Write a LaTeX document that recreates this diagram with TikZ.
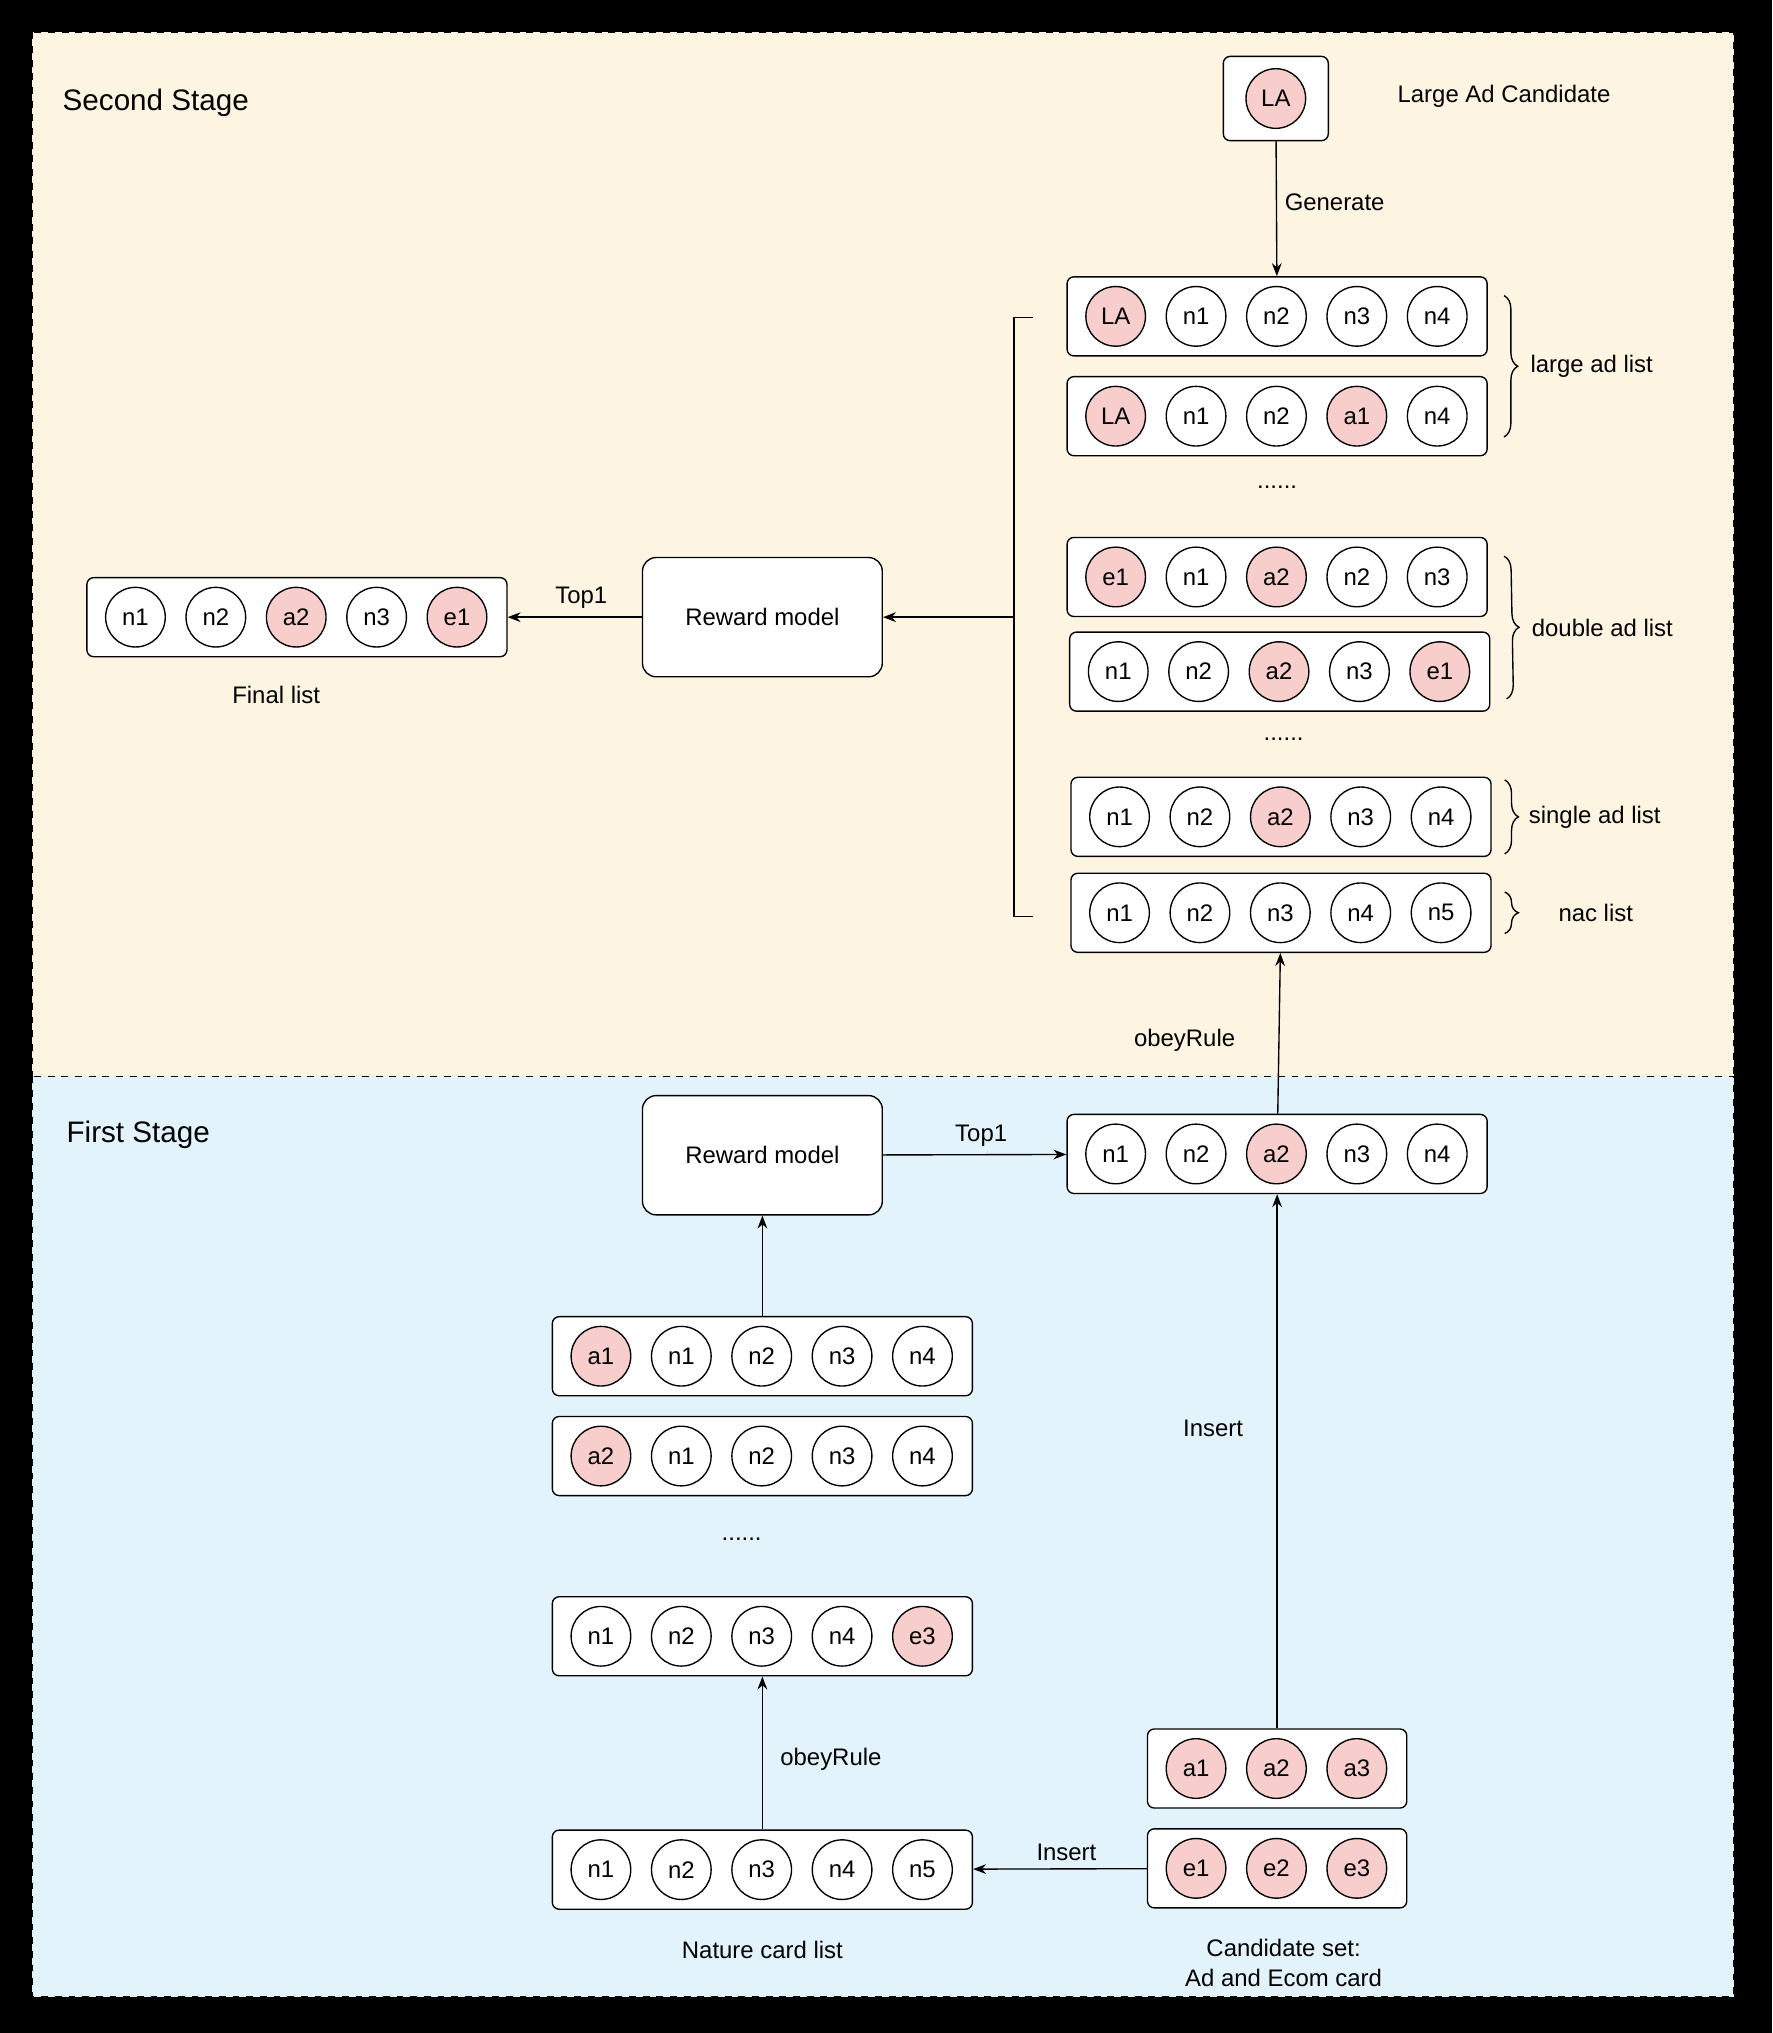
\documentclass[tikz,border=0pt]{standalone}
\usepackage{fontspec}
\setmainfont{Liberation Sans}
\usetikzlibrary{calc,decorations.pathreplacing,arrows.meta}

\definecolor{stagetwo}{HTML}{FDF5E1}
\definecolor{stageone}{HTML}{E2F3FB}
\definecolor{adpink}{HTML}{F8CECC}

% one list of cards: name, centre x, centre y, width, cards
\newcommand{\cardrow}[5]{%
  \node [rowbox,minimum width=#4*0.02cm] (#1) at (#2,#3) {};
  \foreach \lab/\sty [count=\i] in {#5} {
    \pgfmathsetmacro{\off}{(38+62*(\i-1))*0.02}
    \node [\sty] (#1-\i) at ([xshift=\off cm]#1.west) {\lab};
  }%
}

\begin{document}
\begin{tikzpicture}[x=0.02cm,y=-0.02cm,font=\fontsize{10.5}{13}\selectfont,>=Stealth,line width=0.6pt]

  \tikzstyle{rowbox}=[draw,rounded corners=3pt,fill=white,minimum height=1.22cm,inner sep=0pt]
  \tikzstyle{card}=[circle,draw,fill=white,minimum size=0.92cm,inner sep=0pt,font=\fontsize{10.5}{12}\selectfont]
  \tikzstyle{ad}=[card,fill=adpink]
  \tikzstyle{model}=[draw,rounded corners=6pt,fill=white,minimum width=3.7cm,minimum height=1.84cm]
  \tikzstyle{mybrace}=[decorate,decoration={brace,amplitude=6pt}]
  \tikzstyle{stage}=[font=\fontsize{13}{15}\selectfont,anchor=west]

  % background and stages
  \fill [black] (0,0) rectangle (1367,1568);
  \draw [dashed,line width=0.4pt,fill=stagetwo] (25,25) rectangle (1337,830);
  \draw [dashed,line width=0.4pt,fill=stageone] (25,830) rectangle (1337,1540);
  \node [stage] (s2) at (42,79) {Second Stage};
  \node [stage] (s1) at (45,875) {First Stage};

  % second stage
  \node [draw,rounded corners=3pt,fill=white,minimum width=1.62cm,minimum height=1.3cm] (la) at (984,76) {};
  \node [ad] (la-1) at (la) {LA};
  \node (lalab) at (1160,74) {Large Ad Candidate};

  \cardrow{r1}{985}{244}{324}{LA/ad,n1/card,n2/card,n3/card,n4/card}
  \cardrow{r2}{985}{321}{324}{LA/ad,n1/card,n2/card,a1/ad,n4/card}
  \node (d1) at (985,376) {......};
  \cardrow{r3}{985}{445}{324}{e1/ad,n1/card,a2/ad,n2/card,n3/card}
  \cardrow{r4}{987}{518}{324}{n1/card,n2/card,a2/ad,n3/card,e1/ad}
  \node (d2) at (990,570) {......};
  \cardrow{r5}{988}{630}{324}{n1/card,n2/card,a2/ad,n3/card,n4/card}
  \cardrow{r6}{988}{704}{324}{n1/card,n2/card,n3/card,n4/card,n5/card}

  \draw [->] (la) -- node [right,yshift=0.1cm] {Generate} (r1);

  \draw [mybrace] ([xshift=0.25cm,yshift=-0.3cm]r1.north east) -- ([xshift=0.25cm,yshift=0.3cm]r2.south east) node [midway,right=8pt] {large ad list};
  \draw [mybrace] ([xshift=0.25cm,yshift=-0.3cm]r3.north east) -- ([xshift=0.25cm,yshift=0.2cm]r4.south east) node [midway,right=8pt] {double ad list};
  \draw [mybrace] ([xshift=0.2cm,yshift=-0.05cm]r5.north east) -- ([xshift=0.2cm,yshift=0.05cm]r5.south east) node [midway,right=7pt] {single ad list};
  \draw [mybrace] ([xshift=0.2cm,yshift=-0.3cm]r6.north east) -- ([xshift=0.2cm,yshift=0.3cm]r6.south east) node [midway,right=20pt] {nac list};

  \coordinate (bt) at (797,245);
  \coordinate (bb) at (797,707);
  \coordinate (bm) at (782,476);
  \draw (bt) -- ++(-15,0) -- ++(0,462) -- (bb);

  \node [model] (rm2) at (588,476) {Reward model};
  \draw [->] (bm) -- (rm2);
  \cardrow{fin}{229}{476}{324}{n1/card,n2/card,a2/ad,n3/card,e1/ad}
  \draw [->] (rm2) -- node [above,xshift=0.1cm] {Top1} (fin);
  \node (finlab) at (213,536) {Final list};

  % first stage
  \node [model] (rm1) at (588,891) {Reward model};
  \cardrow{top}{985}{890}{324}{n1/card,n2/card,a2/ad,n3/card,n4/card}
  \draw [->] (rm1) -- node [above,xshift=0.1cm] {Top1} (top);
  \draw [->] (top) -- node [left=0.55cm,yshift=-0.1cm] {obeyRule} (r6);

  \cardrow{c1}{588}{1046}{324}{a1/ad,n1/card,n2/card,n3/card,n4/card}
  \cardrow{c2}{588}{1123}{324}{a2/ad,n1/card,n2/card,n3/card,n4/card}
  \node (d3) at (572,1187) {......};
  \cardrow{c3}{588}{1262}{324}{n1/card,n2/card,n3/card,n4/card,e3/ad}
  \draw [->] (c1) -- (rm1);

  \cardrow{nat}{588}{1442}{324}{n1/card,n2/card,n3/card,n4/card,n5/card}
  \node (natlab) at (588,1504) {Nature card list};
  \draw [->] (nat) -- node [right=0.15cm,yshift=-0.1cm] {obeyRule} (c3);

  \cardrow{ca}{985}{1364}{200}{a1/ad,a2/ad,a3/ad}
  \cardrow{ce}{985}{1441}{200}{e1/ad,e2/ad,e3/ad}
  \node [align=center] (candlab) at (990,1514) {Candidate set:\\Ad and Ecom card};
  \draw [->] (ce) -- node [above,xshift=0.1cm] {Insert} (nat);
  \draw [->] (ca) -- node [left=0.4cm,yshift=0.5cm] {Insert} (top);

\end{tikzpicture}
\end{document}
